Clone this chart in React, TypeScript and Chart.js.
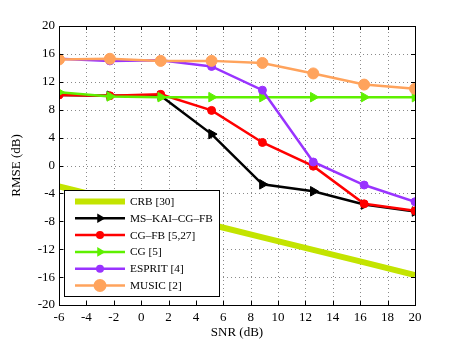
import React, { useEffect, useRef } from "react";
import { Chart, registerables } from "chart.js";

Chart.register(...registerables);

const snr = [-6, -2.286, 1.429, 5.143, 8.857, 12.571, 16.286, 20];
const crb = [-3.0, -4.8, -6.7, -8.5, -10.3, -12.1, -13.9, -15.7];
const msKai = [10.1, 10.0, 10.0, 4.5, -2.7, -3.7, -5.6, -6.6];
const cgFb = [10.1, 10.0, 10.2, 7.9, 3.3, -0.1, -5.5, -6.5];
const cg = [10.5, 9.9, 9.8, 9.8, 9.8, 9.8, 9.8, 9.8];
const esprit = [15.3, 15.0, 15.1, 14.2, 10.8, 0.5, -2.8, -5.2];
const music = [15.2, 15.3, 15.0, 15.0, 14.7, 13.2, 11.6, 11.0];

const seriesLabels = ["CRB [30]", "MS\u2013KAI\u2013CG\u2013FB", "CG\u2013FB [5,27]", "CG [5]", "ESPRIT [4]", "MUSIC [2]"];
const xTicks = [-6, -4, -2, 0, 2, 4, 6, 8, 10, 12, 14, 16, 18, 20];
const yTicks = [-20, -16, -12, -8, -4, 0, 4, 8, 12, 16, 20];

const FONT = "'Liberation Serif', 'DejaVu Serif', serif";

const pts = (ys: number[]) => snr.map((x, i) => ({ x, y: ys[i] }));

export default function App() {
  const ref = useRef<HTMLCanvasElement | null>(null);
  useEffect(() => {
    if (!ref.current) return;
    const styles = [
      { color: "#c3e400", width: 6, style: false as any, radius: 0, rot: 0, order: 6 },
      { color: "#000000", width: 2.5, style: "triangle", radius: 5.5, rot: 90, order: 5 },
      { color: "#ff0000", width: 2.5, style: "circle", radius: 4, rot: 0, order: 4 },
      { color: "#5ef000", width: 2.5, style: "triangle", radius: 5.5, rot: 90, order: 3 },
      { color: "#9933ff", width: 2.5, style: "circle", radius: 4, rot: 0, order: 2 },
      { color: "#ffa35c", width: 2.5, style: "circle", radius: 5.5, rot: 0, order: 1 },
    ];
    const values = [crb, msKai, cgFb, cg, esprit, music];
    const datasets = values.map((v, i) => ({
      label: seriesLabels[i],
      data: pts(v),
      borderColor: styles[i].color,
      backgroundColor: styles[i].color,
      borderWidth: styles[i].width,
      pointStyle: styles[i].style,
      pointRadius: styles[i].radius,
      pointRotation: styles[i].rot,
      pointBorderWidth: 1,
      order: styles[i].order,
      tension: 0,
    }));

    const grid = {
      id: "dotgrid",
      beforeDatasetsDraw(chart: any) {
        const ctx = chart.ctx;
        const a = chart.chartArea;
        const xs = chart.scales.x;
        const ys = chart.scales.y;
        ctx.save();
        ctx.strokeStyle = "#8a8a8a";
        ctx.lineWidth = 1;
        ctx.setLineDash([1, 3]);
        ctx.beginPath();
        xTicks.slice(1, -1).forEach((t) => {
          const px = Math.round(xs.getPixelForValue(t)) + 0.5;
          ctx.moveTo(px, a.bottom);
          ctx.lineTo(px, a.top);
        });
        yTicks.slice(1, -1).forEach((t) => {
          const py = Math.round(ys.getPixelForValue(t)) + 0.5;
          ctx.moveTo(a.left, py);
          ctx.lineTo(a.right, py);
        });
        ctx.stroke();
        ctx.restore();
      },
    };

    const decor = {
      id: "decor",
      afterDatasetsDraw(chart: any) {
        const ctx = chart.ctx;
        const a = chart.chartArea;
        const xs = chart.scales.x;
        const ys = chart.scales.y;
        ctx.save();
        ctx.strokeStyle = "#000";
        ctx.lineWidth = 1;
        ctx.strokeRect(a.left + 0.5, a.top + 0.5, a.right - a.left, a.bottom - a.top);
        ctx.beginPath();
        xTicks.forEach((t) => {
          const px = Math.round(xs.getPixelForValue(t)) + 0.5;
          ctx.moveTo(px, a.bottom);
          ctx.lineTo(px, a.bottom - 4);
          ctx.moveTo(px, a.top);
          ctx.lineTo(px, a.top + 4);
        });
        yTicks.forEach((t) => {
          const py = Math.round(ys.getPixelForValue(t)) + 0.5;
          ctx.moveTo(a.left, py);
          ctx.lineTo(a.left + 4, py);
          ctx.moveTo(a.right, py);
          ctx.lineTo(a.right - 4, py);
        });
        ctx.stroke();
        ctx.fillStyle = "#000";
        ctx.font = `13px ${FONT}`;
        ctx.textAlign = "center";
        ctx.textBaseline = "middle";
        ctx.fillText("SNR (dB)", (a.left + a.right) / 2, 333);
        ctx.save();
        ctx.translate(17, (a.top + a.bottom) / 2);
        ctx.rotate(-Math.PI / 2);
        ctx.fillText("RMSE (dB)", 0, 0);
        ctx.restore();
        const lx = 64, ly = 190, lw = 155, lh = 106;
        ctx.fillStyle = "#fff";
        ctx.fillRect(lx, ly, lw, lh);
        ctx.strokeStyle = "#000";
        ctx.lineWidth = 1;
        ctx.strokeRect(lx + 0.5, ly + 0.5, lw, lh);
        ctx.font = `11.3px ${FONT}`;
        ctx.textAlign = "left";
        seriesLabels.forEach((lab, i) => {
          const y = 201.5 + i * 16.8;
          const s = styles[i];
          ctx.strokeStyle = s.color;
          ctx.lineWidth = s.width;
          ctx.beginPath();
          ctx.moveTo(75, y);
          ctx.lineTo(125, y);
          ctx.stroke();
          ctx.fillStyle = s.color;
          if (s.style === "circle") {
            const r = i === 5 ? 6.5 : s.radius;
            ctx.beginPath();
            ctx.arc(100, y, r, 0, Math.PI * 2);
            ctx.fill();
          } else if (s.style === "triangle") {
            const r = s.radius;
            ctx.beginPath();
            ctx.moveTo(100 + r, y);
            ctx.lineTo(100 - r * 0.5, y - r * 0.87);
            ctx.lineTo(100 - r * 0.5, y + r * 0.87);
            ctx.closePath();
            ctx.fill();
          }
          ctx.fillStyle = "#000";
          ctx.fillText(lab, 130, y + 0.5);
        });
        ctx.restore();
      },
    };

    const chart = new Chart(ref.current, {
      type: "line",
      data: { datasets },
      options: {
        animation: false,
        responsive: false,
        layout: { padding: { left: 0, top: 26, right: 43, bottom: 0 } },
        plugins: { legend: { display: false }, tooltip: { enabled: false } },
        scales: {
          x: {
            type: "linear",
            min: -6,
            max: 20,
            afterBuildTicks: (s: any) => { s.ticks = xTicks.map((v) => ({ value: v })); },
            afterFit: (s: any) => { s.height = 38; },
            ticks: { font: { family: FONT, size: 13 }, color: "#000", padding: 5, maxRotation: 0, autoSkip: false },
            grid: { display: false, drawTicks: false },
            border: { display: false },
          },
          y: {
            type: "linear",
            min: -20,
            max: 20,
            afterBuildTicks: (s: any) => { s.ticks = yTicks.map((v) => ({ value: v })); },
            afterFit: (s: any) => { s.width = 59; },
            ticks: { font: { family: FONT, size: 13 }, color: "#000", padding: 4, autoSkip: false },
            grid: { display: false, drawTicks: false },
            border: { display: false },
          },
        },
      },
      plugins: [grid, decor],
    } as any);
    return () => chart.destroy();
  }, []);
  return (
    <div style={{ position: "absolute", left: 0, top: 0, width: 458, height: 343, background: "#fff" }}>
      <canvas ref={ref} width={458} height={343} style={{ width: 458, height: 343 }} />
    </div>
  );
}
